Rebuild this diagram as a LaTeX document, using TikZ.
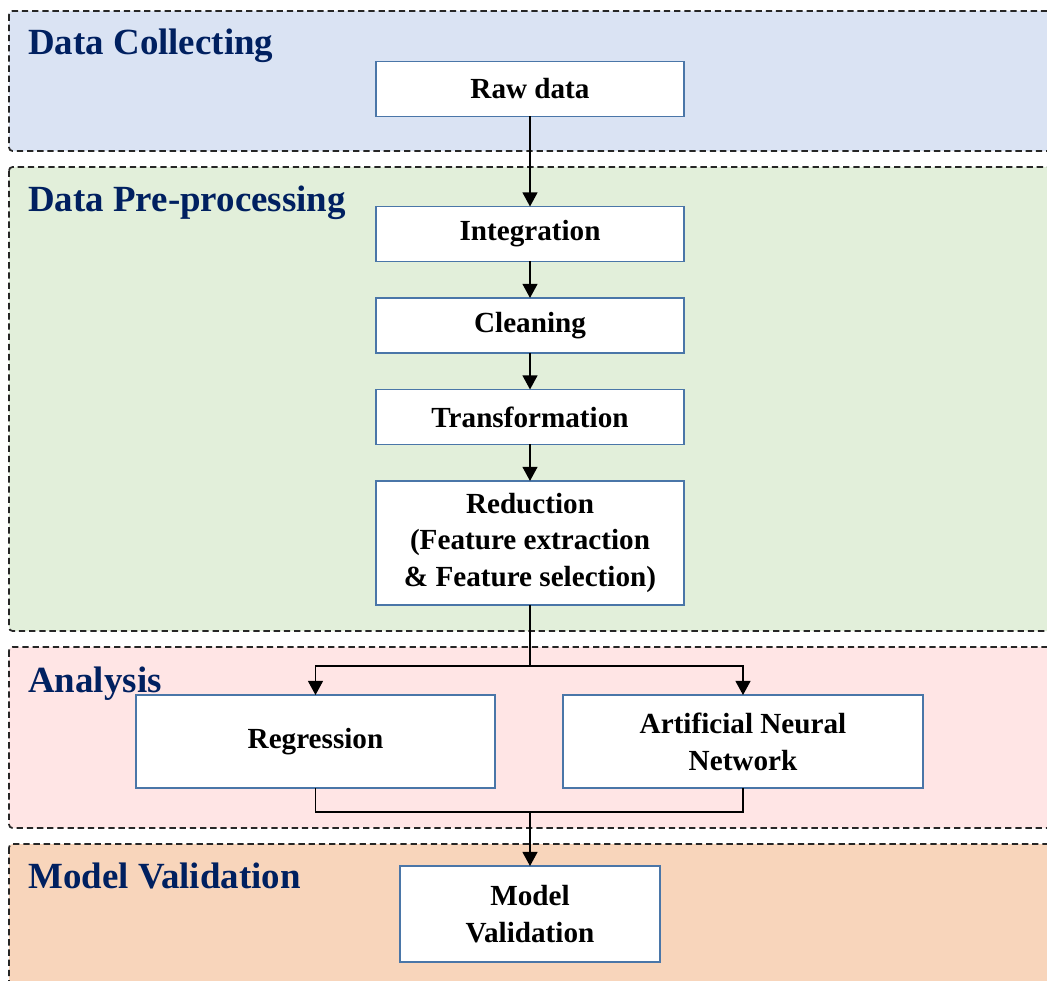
\documentclass[tikz,border=0pt]{standalone}
\usepackage{fontspec}
\setmainfont{Liberation Serif}
\usetikzlibrary{arrows.meta, positioning}

\definecolor{titleblue}{RGB}{0,32,96}
\definecolor{boxblue}{RGB}{74,118,168}
\definecolor{collectfill}{RGB}{218,227,243}
\definecolor{prefill}{RGB}{226,239,218}
\definecolor{anafill}{RGB}{255,229,229}
\definecolor{validfill}{RGB}{248,213,187}

\begin{document}
\begin{tikzpicture}[x=0.02cm, y=-0.02cm, node distance=0.73cm,
  panel/.style={draw=black!85, dash pattern=on 3.6pt off 2.2pt, line width=1pt, rounded corners=2pt},
  title/.style={anchor=base west, inner sep=0pt, text=titleblue, font=\fontsize{21}{25}\selectfont\bfseries},
  stepbox/.style={rectangle, draw=boxblue, fill=white, line width=0.8pt, outer sep=0pt, minimum width=6.16cm, minimum height=1.1cm, align=center, font=\fontsize{16.6}{21}\selectfont\bfseries},
  line/.style={draw, line width=0.8pt, -{Triangle[length=8pt,width=8.5pt]}}]

  \useasboundingbox (0,0) rectangle (1047,980);
  \clip (0,0) rectangle (1047,980);

  \filldraw [panel, fill=collectfill] (9,11) rectangle (1070,151);
  \filldraw [panel, fill=prefill] (9,167) rectangle (1070,631);
  \filldraw [panel, fill=anafill] (9,647) rectangle (1070,828);
  \filldraw [panel, fill=validfill] (9,844) rectangle (1070,1000);

  \node [title] (tcollect) at (28,55) {Data Collecting};
  \node [title] (tpre) at (28,211) {Data Pre-processing};
  \node [title] (tana) at (28,692) {Analysis};
  \node [title] (tvalid) at (28,888) {Model Validation};

  \node [stepbox] (raw) at (530,89) {Raw data};
  \node [stepbox, below=1.8cm of raw] (integ) {Integration};
  \node [stepbox, below=of integ] (clean) {Cleaning};
  \node [stepbox, below=of clean] (trans) {Transformation};
  \node [stepbox, below=of trans, minimum height=2.48cm] (reduce) {Reduction\\(Feature extraction\\\& Feature selection)};
  \node [stepbox, minimum width=7.18cm, minimum height=1.86cm] (regr) at (315.5,741.5) {Regression};
  \node [stepbox, minimum width=7.2cm, minimum height=1.86cm] (ann) at (743,741.5) {Artificial Neural\\Network};
  \node [stepbox, minimum width=5.2cm, minimum height=1.92cm] (valid) at (530,914) {Model\\Validation};

  \coordinate (split) at (530,666);
  \coordinate (merge) at (530,812);

  \path [line] (raw) -- (integ);
  \path [line] (integ) -- (clean);
  \path [line] (clean) -- (trans);
  \path [line] (trans) -- (reduce);
  \path [line] (reduce.south) -- (split) -| (regr.north);
  \path [line] (split) -| (ann.north);
  \draw [line width=0.8pt] (regr.south) |- (merge) -| (ann.south);
  \path [line] (merge) -- (valid.north);
\end{tikzpicture}
\end{document}
